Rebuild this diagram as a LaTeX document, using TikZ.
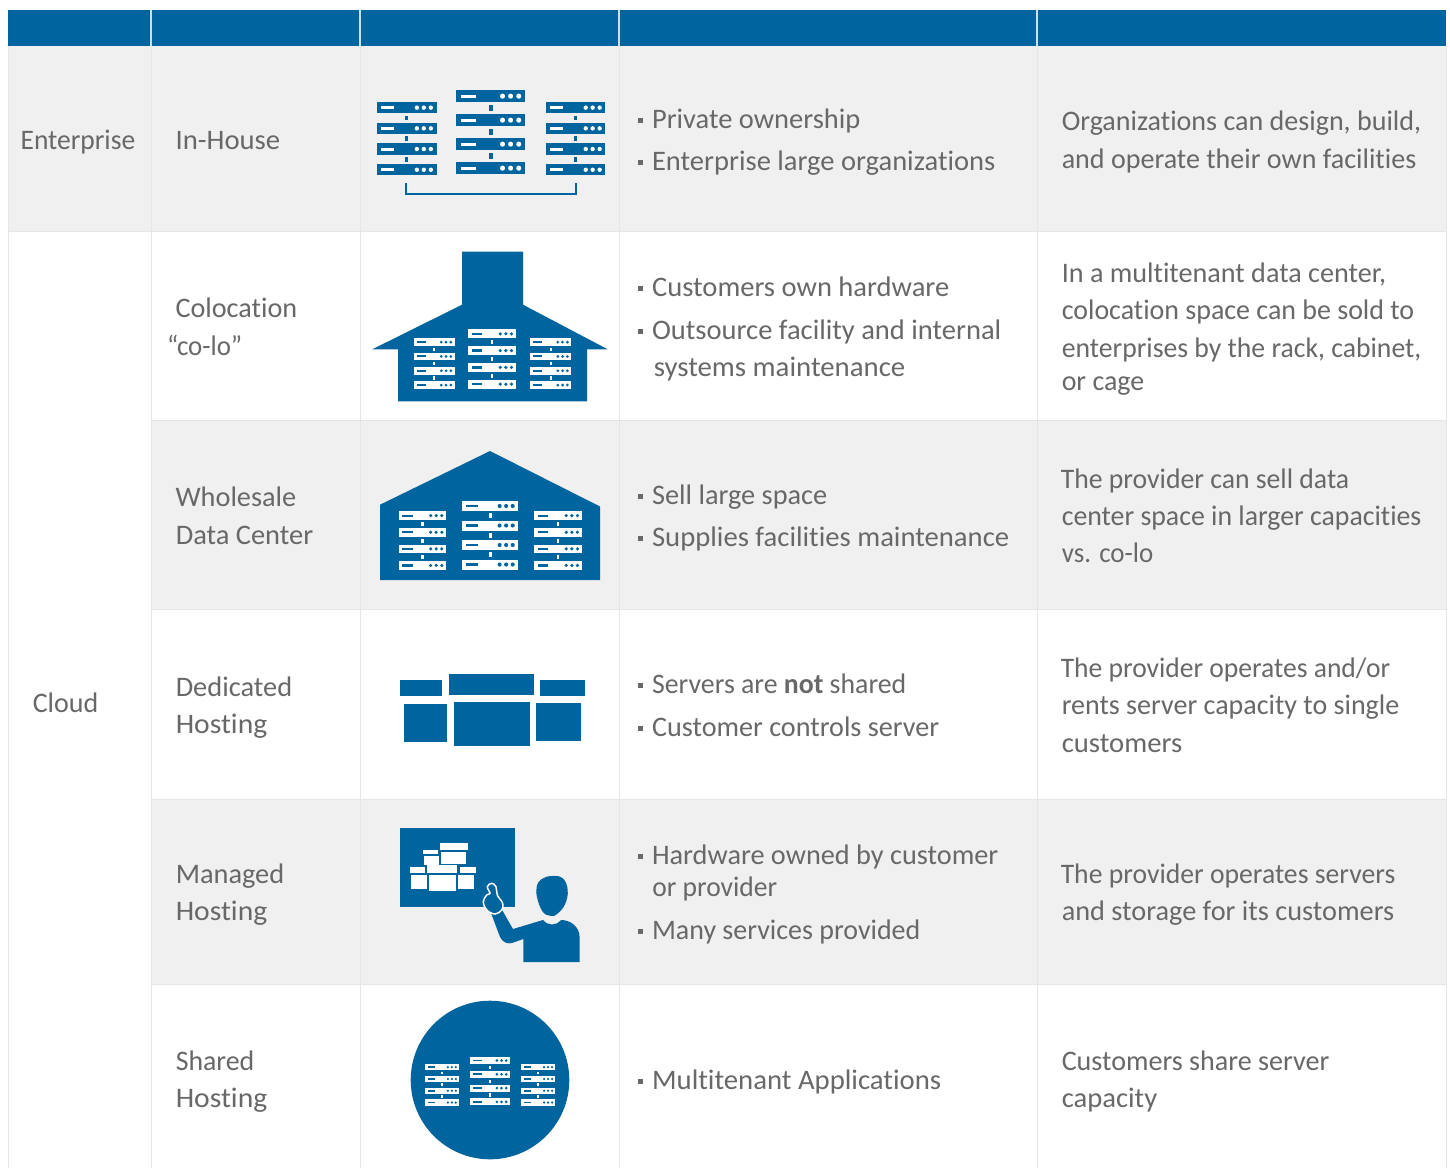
\documentclass[tikz,border=0pt]{standalone}
\usepackage{fontspec}
\usepackage{graphicx}
\setmainfont{Carlito}[Ligatures=CommonOff]
\definecolor{hdr}{HTML}{00659E}
\definecolor{rowg}{HTML}{F0F0F0}
\definecolor{gridl}{HTML}{E6E6E6}
\definecolor{txtc}{HTML}{686868}
\newcounter{tn}
\newlength\wfit
\tikzset{
  txt/.style={anchor=base west,inner sep=0pt,text=txtc,font=\fontsize{21.2pt}{24pt}\selectfont},
  bullet/.style={fill=txtc,draw=none,inner sep=0pt,minimum size=3.6pt,rectangle},
  gridline/.style={draw=gridl,line width=0.75pt},
}
% left x, baseline y, right end x, text (width fitted to the reference)
\newcommand\tx[4]{\stepcounter{tn}\setlength\wfit{\dimexpr #3pt - #1pt\relax}\setlength\wfit{0.75\wfit}\node[txt] (t\arabic{tn}) at (#1,#2) {\resizebox{\wfit}{\height}{#4}};}
\newcommand\itm[3]{\stepcounter{tn}\node[bullet] (b\arabic{tn}) at (640.8,#1-7.9) {};\tx{651.8}{#1}{#2}{#3}}
% x0,x1,ytop,h,pitch,fg,bg
\newcommand\srvcol[7]{%
  \foreach \k in {0,1,2,3}{%
    \pgfmathsetmacro\yt{#3+\k*#5}
    \pgfmathsetmacro\ym{\yt+#4/2}
    \pgfmathsetmacro\ww{#2-#1}
    \fill[#6] (#1,\yt) rectangle (#2,\yt+#4);
    \fill[#7] (#1+.067*\ww,\ym-#4*.13) rectangle (#1+.287*\ww,\ym+#4*.13);
    \foreach \f in {.67,.787,.905}{\fill[#7] (#1+\f*\ww,\ym) circle[radius=.037*\ww];}
    \ifnum\k<3
      \fill[#6] (#1+.5*\ww-.025*\ww,\yt+#4+.25*#5-.25*#4) rectangle (#1+.5*\ww+.025*\ww,\yt+.75*#5+.25*#4);
    \fi
  }%
}
\begin{document}
\begin{tikzpicture}[x=0.75pt,y=-0.75pt]
\fill[white] (0,0) rectangle (1450,1168);
\useasboundingbox (0,0) rectangle (1450,1168);
% rows
\fill[rowg] (8,46) rectangle (1446,231);
\fill[rowg] (151,420) rectangle (1446,609);
\fill[rowg] (151,799) rectangle (1446,984);
% grid
\foreach \x in {8,151,360,619,1037,1446}{\draw[gridline] (\x,46) -- (\x,1168);}
\draw[gridline] (8,231) -- (1446,231);
\foreach \y in {420,609,799,984}{\draw[gridline] (151,\y) -- (1446,\y);}
% header
\fill[hdr] (8,10) rectangle (1446,46);
\foreach \x in {151,360,619,1037}{\draw[white,line width=0.9pt,opacity=.8] (\x,10) -- (\x,46);}
% In-house icon
\srvcol{377}{436.5}{102}{11.3}{20.7}{hdr}{white}
\srvcol{456.3}{525.3}{90}{12.3}{24}{hdr}{white}
\srvcol{546}{605.3}{102}{11.3}{20.7}{hdr}{white}
\draw[hdr,line width=1.6pt] (405.7,183) -- (405.7,194) -- (576,194) -- (576,183);
% Colocation icon
\fill[hdr] (462,251.7) -- (523,251.7) -- (523,304.7) -- (607.7,349.3) -- (587,349.3) -- (587,401.3) -- (398,401.3) -- (398,349.3) -- (372.3,349.3) -- (462,304.7) -- cycle;
\srvcol{414}{454.7}{338.3}{7.7}{14.3}{white}{hdr}
\srvcol{468.3}{516}{329.3}{9}{16.8}{white}{hdr}
\srvcol{530.3}{571.3}{338.3}{7.7}{14.3}{white}{hdr}
% Wholesale icon
\fill[hdr] (490,451) -- (600,506.5) -- (600,580) -- (380,580) -- (380,504.7) -- cycle;
\srvcol{399}{446.3}{511.3}{8.7}{16.6}{white}{hdr}
\srvcol{462.3}{518}{501}{10}{19.5}{white}{hdr}
\srvcol{534.3}{582}{511.3}{8.7}{16.6}{white}{hdr}
% Dedicated icon
\fill[hdr] (400,680) rectangle (442,696);
\fill[hdr] (449,674) rectangle (534,695);
\fill[hdr] (540,680) rectangle (585,696);
\fill[hdr] (404,704) rectangle (447,742);
\fill[hdr] (454,702) rectangle (530,746);
\fill[hdr] (536,703) rectangle (581,741);
% Managed icon
\fill[hdr] (400,828.3) rectangle (514.7,906.7);
\fill[white] (440,843) rectangle (468,850);
\fill[white] (441.3,852.3) rectangle (465.7,864.3);
\fill[white] (422.7,850.3) rectangle (438,853.7);
\fill[white] (423.7,856.3) rectangle (438.7,865);
\fill[white] (410,867) rectangle (425,873);
\fill[white] (411,875) rectangle (427,889);
\fill[white] (427,865) rectangle (457,873);
\fill[white] (429,875) rectangle (456,891);
\fill[white] (460,867) rectangle (476,873);
\fill[white] (458,875) rectangle (474,889);
\fill[hdr] plot[smooth cycle,tension=.7] coordinates {(552,876) (562.7,878.3) (567.7,890) (565,904.3) (556.7,914.3) (550,915.7) (542.7,911.7) (537.3,898.3) (536.7,886.7) (541.7,879)};
\fill[hdr] (523.3,962) -- (579.7,962) -- (579.7,938) .. controls (579.7,926) and (570,920) .. (561,920) .. controls (556,926) and (548,926) .. (543,920) -- (513,929) -- (501,908) -- (491,913) -- (500,937) .. controls (503,943) and (508,944) .. (512,943) -- (523.3,939) -- cycle;
\draw[white,line width=1.1pt,fill=hdr] plot[smooth cycle,tension=.6] coordinates {(487.3,886.7) (491.7,883.3) (496,886.7) (497.3,895) (502.7,903.3) (501.7,910) (495,914) (486.7,910) (483.3,901.7) (486.7,895) (490,893.3)};
% Shared icon
\fill[hdr] (490,1080) circle[radius=79.3];
\srvcol{425.3}{459}{1064}{6.3}{11.8}{white}{hdr}
\srvcol{470.3}{510}{1057}{7}{13.8}{white}{hdr}
\srvcol{521.3}{555.3}{1064}{6.3}{11.8}{white}{hdr}
% text col 1 and 2
\tx{20.3}{149}{135}{Enterprise}
\tx{32.5}{712}{98}{Cloud}
\tx{175.3}{149}{280}{In-House}
\tx{175.3}{317}{297}{Colocation}
\tx{166.8}{355}{242}{“co-lo”}
\tx{175.3}{506}{296}{Wholesale}
\tx{175.5}{544}{313}{Data Center}
\tx{175.5}{696}{292}{Dedicated}
\tx{175.5}{733}{267}{Hosting}
\tx{175.5}{883}{284}{Managed}
\tx{175.5}{920}{267}{Hosting}
\tx{175.5}{1070}{254}{Shared}
\tx{175.5}{1107}{267}{Hosting}
% bullets
\itm{128}{860}{Private ownership}
\itm{170}{995}{Enterprise large organizations}
\itm{296}{949}{Customers own hardware}
\itm{339}{1001}{Outsource facility and internal}
\tx{653.5}{376}{905}{systems maintenance}
\itm{504}{827}{Sell large space}
\itm{546}{1009}{Supplies facilities maintenance}
\itm{693}{906}{Servers are \textbf{not} shared}
\itm{736}{939}{Customer controls server}
\itm{864}{998}{Hardware owned by customer}
\tx{652}{896}{777}{or provider}
\itm{939}{920}{Many services provided}
\itm{1089}{941}{Multitenant Applications}
% descriptions
\tx{1061.5}{130}{1421}{Organizations can design, build,}
\tx{1061.5}{168}{1416}{and operate their own facilities}
\tx{1061.5}{282}{1386}{In a multitenant data center,}
\tx{1061.5}{319}{1414}{colocation space can be sold to}
\tx{1061.5}{357}{1421}{enterprises by the rack, cabinet,}
\tx{1061.5}{390}{1144}{or cage}
\tx{1060.5}{488}{1349}{The provider can sell data}
\tx{1061.5}{525}{1421}{center space in larger capacities}
\tx{1061.5}{562}{1153}{vs. co-lo}
\tx{1060.5}{677}{1390}{The provider operates and/or}
\tx{1061.5}{714}{1399}{rents server capacity to single}
\tx{1061.5}{752}{1182}{customers}
\tx{1060.5}{883}{1395}{The provider operates servers}
\tx{1061.5}{920}{1394}{and storage for its customers}
\tx{1061.5}{1070}{1329}{Customers share server}
\tx{1061.5}{1107}{1157}{capacity}
\end{tikzpicture}
\end{document}
